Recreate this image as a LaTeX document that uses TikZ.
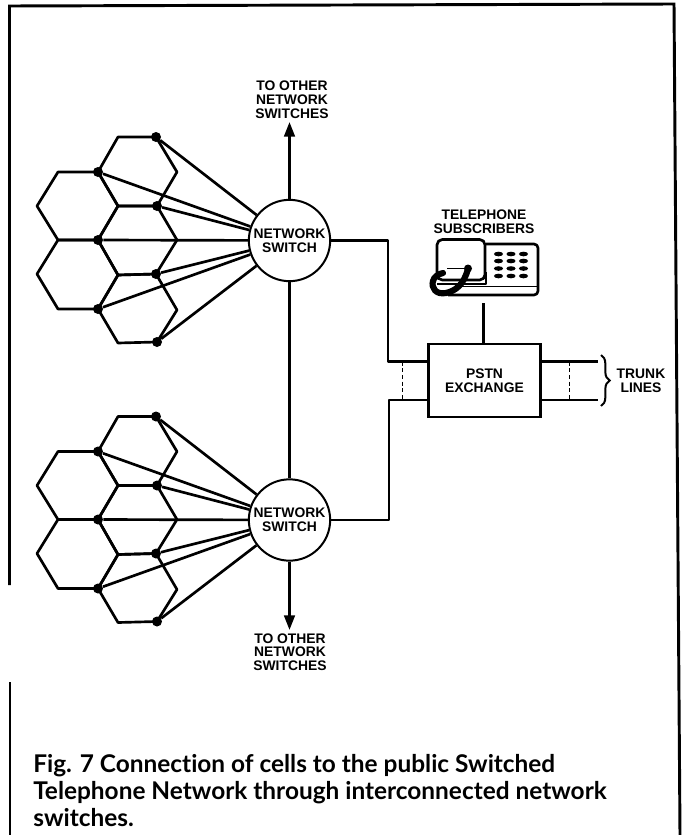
\documentclass[tikz,border=0pt]{standalone}
\usepackage{fontspec}
\setmainfont{Liberation Sans}
\newfontfamily\capfont[Ligatures=NoCommon]{Lato}
\usetikzlibrary{arrows.meta,decorations.pathreplacing}
\tikzset{
  net line/.style={draw=black, line width=2pt, line join=round},
  net frame/.style={draw=black, line width=2.2pt},
  net arrow/.style={net line, -{Triangle[length=11pt, width=8pt]}},
  net guide/.style={draw=black, densely dashed, line width=1pt},
  net dot/.style={circle, fill=black, minimum size=7.5pt, inner sep=0pt},
  net switch/.style={circle, draw=black, fill=white, line width=1.5pt, minimum size=61pt, inner sep=0pt, align=center, font=\fontsize{10.4}{10.6}\selectfont\bfseries},
  net box/.style={draw=black, fill=white, line width=1.6pt, minimum width=84pt, minimum height=55pt, inner sep=0pt, align=center, font=\fontsize{10.4}{10.6}\selectfont\bfseries},
  net label/.style={align=center, inner sep=0pt, font=\fontsize{10.4}{10.3}\selectfont\bfseries},
}
% One group of cells with its switch
\newcommand{\cellgroup}[2]{
  \begin{scope}[shift={(0,#2)}]
    \draw[net line] (118,137) -- (156,137) -- (177,172) -- (157,206) -- (118,206) -- (98,172) -- cycle;
    \draw[net line] (58,172) -- (98,172) -- (118,206) -- (98,240) -- (58,240) -- (37,206) -- cycle;
    \draw[net line] (118,206) -- (157,206) -- (177,240) -- (156,274) -- (118,275) -- (98,240) -- cycle;
    \draw[net line] (58,240) -- (98,240) -- (118,275) -- (98,309) -- (58,309) -- (37,274) -- cycle;
    \draw[net line] (118,275) -- (156,274) -- (177,310) -- (157,342) -- (118,343) -- (98,309) -- cycle;
    \node[net dot] (#1a) at (156,137) {};
    \node[net dot] (#1b) at (98,172) {};
    \node[net dot] (#1c) at (157,206) {};
    \node[net dot] (#1d) at (98,240) {};
    \node[net dot] (#1e) at (156,274) {};
    \node[net dot] (#1f) at (98,309) {};
    \node[net dot] (#1g) at (157,342) {};
    \node[net switch] (#1sw) at (289.5,240.5) {NETWORK\\SWITCH};
    \foreach \d in {a,...,g} {
      \draw[net line] (#1\d) -- (#1sw);
    }
  \end{scope}
}

\begin{document}
\begin{tikzpicture}[x=0.75pt, y=-0.75pt]
  \useasboundingbox (0,0) rectangle (682,835);
  \fill[white] (0,0) rectangle (682,835);
  % Outer frame, broken on the left
  \draw[net frame] (9.5,585) -- (9.5,6) -- (674,4) -- (680,835);
  \draw[net frame] (10,682) -- (10,835);
  % Cells
  \cellgroup{up}{0}
  \cellgroup{lo}{279.5}
  % Switch links
  \draw[net line] (upsw) -- (losw);
  \coordinate (uptip) at (289.5,122);
  \coordinate (lotip) at (289.5,630);
  \draw[net arrow] (upsw) -- (uptip);
  \draw[net arrow] (losw) -- (lotip);
  \node[net label] (uptext) at (292,99.5) {TO OTHER\\NETWORK\\SWITCHES};
  \node[net label] (lotext) at (290,652) {TO OTHER\\NETWORK\\SWITCHES};
  % Exchange and trunks
  \node[net box] (pstn) at (484.5,380.3) {PSTN\\EXCHANGE};
  \coordinate (upbend) at (388,240.5);
  \coordinate (upin) at (388,361.5);
  \coordinate (lobend) at (389,520);
  \coordinate (loin) at (389,400);
  \coordinate (trunka) at (598,361.5);
  \coordinate (trunkb) at (598,400);
  \draw[net line] (upsw) -- (upbend) -- (upin) -- (pstn.west |- upin);
  \draw[net line] (losw) -- (lobend) -- (loin) -- (pstn.west |- loin);
  \draw[net line] (pstn.east |- trunka) -- (trunka);
  \draw[net line] (pstn.east |- trunkb) -- (trunkb);
  \draw[net guide] (402.5,361.5) -- (402.5,400);
  \draw[net guide] (569.5,361.5) -- (569.5,400);
  \draw[line width=1.5pt, decorate, decoration={brace, amplitude=6.5pt}] (601,355) -- (601,406);
  \node[net label] (trunk) at (641,381) {TRUNK\\LINES};
  % Telephone
  \node[net label] (phone) at (484,222) {TELEPHONE\\SUBSCRIBERS};
  \coordinate (phonefoot) at (483.5,303);
  \draw[net line] (phonefoot) -- (pstn.north -| phonefoot);
  \draw[net line, rounded corners=3pt] (486,244) -- (538,244) -- (538,295) -- (448,295);
  \draw[line width=1.3pt] (462,286.5) -- (538,286.5);
  \draw[net line, fill=white, rounded corners=4pt] (437,239.5) rectangle (485,280);
  \draw[line width=0.8pt] (447,268.5) -- (468,268.5);
  \draw[net line] (437,284) -- (486,284) -- (486,272);
  \foreach \x in {498.5,511,523.5} {
    \foreach \y in {254,261,268.5,276} {
      \fill (\x,\y) ellipse [x radius=4.6, y radius=2.3];
    }
  }
  \fill (468,268.5) circle [radius=4];
  \draw[line width=4.6pt, line cap=round] (468,268.5) .. controls (464,285) and (455,291) .. (446,293) .. controls (436,295) and (431,288) .. (433,281) .. controls (434,277) and (438,274) .. (443,273);
  % Caption
  \node[anchor=west, align=left, inner sep=0pt, font=\capfont\fontsize{18.3}{20.2}\selectfont\bfseries] (caption) at (33,790.5) {Fig. 7 Connection of cells to the public Switched\\Telephone Network through interconnected network\\switches.};
\end{tikzpicture}
\end{document}
